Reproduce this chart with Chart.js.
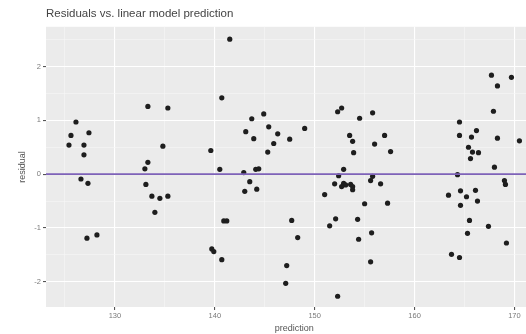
<!DOCTYPE html>
<html>
<head>
<meta charset="utf-8">
<script src="https://cdn.jsdelivr.net/npm/chart.js@4/dist/chart.umd.min.js"></script>
<style>
  html, body { margin: 0; padding: 0; background: #ffffff; overflow: hidden; }
  #wrap { width: 545px; height: 334px; }
</style>
</head>
<body>
<div id="wrap"><canvas id="c" width="545" height="334"></canvas></div>
<script>
// Fitted values of the linear model
const prediction = [
  126.1,127.4,125.6,125.4,126.9,126.9,126.6,127.3,128.2,127.2,
  133.3,135.3,134.8,133.3,133.0,133.1,133.7,134.5,135.3,134.0,
  141.5,140.7,139.6,140.5,139.7,139.9,140.7,140.9,141.2,
  144.9,143.7,145.4,143.1,146.3,143.9,147.5,145.9,145.3,144.1,
  144.4,142.9,143.5,143.0,144.2,149.0,147.7,148.3,147.2,147.1,
  152.3,152.7,154.5,153.5,153.8,153.9,152.9,152.4,152.0,152.9,
  153.1,153.6,153.8,152.7,153.8,151.0,152.1,154.3,151.5,154.4,152.3,
  155.8,156.0,157.0,157.6,155.8,155.6,156.6,155.0,157.3,155.7,155.6,
  167.7,169.7,168.3,167.9,164.5,166.2,164.5,165.7,168.3,170.5,
  165.4,165.8,166.4,165.6,168.0,164.3,169.0,169.1,163.4,164.6,
  166.1,165.2,166.3,164.6,165.5,167.4,165.3,169.2,163.7,164.5
];

// Residuals (observed minus fitted)
const residual = [
  0.97,0.77,0.72,0.54,0.54,0.36,-0.09,-0.17,-1.13,-1.19,
  1.26,1.23,0.52,0.22,0.10,-0.19,-0.41,-0.45,-0.41,-0.71,
  2.51,1.42,0.44,0.09,-1.39,-1.44,-1.59,-0.87,-0.87,
  1.12,1.03,0.88,0.79,0.75,0.66,0.65,0.57,0.41,0.09,
  0.10,0.03,-0.14,-0.32,-0.28,0.85,-0.86,-1.18,-1.70,-2.03,
  1.16,1.23,1.04,0.72,0.61,0.40,0.09,-0.03,-0.18,-0.17,
  -0.20,-0.19,-0.23,-0.23,-0.29,-0.38,-0.83,-0.84,-0.96,-1.21,-2.27,
  1.14,0.56,0.72,0.42,-0.04,-0.12,-0.18,-0.55,-0.54,-1.09,-1.63,
  1.84,1.80,1.64,1.17,0.97,0.81,0.72,0.69,0.67,0.62,
  0.50,0.41,0.40,0.29,0.13,-0.01,-0.12,-0.19,-0.39,-0.31,
  -0.30,-0.42,-0.50,-0.58,-0.86,-0.97,-1.10,-1.28,-1.49,-1.55
];

// Axis breaks: labelled majors and unlabelled minors in between
const xTickLabels = ['130', '140', '150', '160', '170'];
const xMinorBreaks = [125, 135, 145, 155, 165];
const yTickLabels = ['-2', '-1', '0', '1', '2'];
const yMinorBreaks = [-1.5, -0.5, 0.5, 1.5, 2.5];
const referenceLine = 0;

const points = prediction.map((p, i) => ({ x: p, y: residual[i] }));

const xMajor = xTickLabels.map(Number);
const yMajor = yTickLabels.map(Number);
const setBreaks = (major, minor) => scale => {
  scale.ticks = major.concat(minor).sort((a, b) => a - b).map(v => ({ value: v }));
};
const isMajor = major => v => major.some(m => Math.abs(m - v) < 1e-9);

// grey panel behind the grid
const panelBackground = {
  id: 'panelBackground',
  beforeDraw(chart) {
    const { ctx, chartArea: a } = chart;
    ctx.save();
    ctx.fillStyle = '#EBEBEB';
    ctx.fillRect(a.left, a.top, a.right - a.left, a.bottom - a.top);
    ctx.restore();
  }
};

// horizontal reference line at zero residual
const zeroLine = {
  id: 'zeroLine',
  afterDatasetsDraw(chart) {
    const { ctx, chartArea: a, scales } = chart;
    const y = scales.y.getPixelForValue(referenceLine);
    ctx.save();
    ctx.strokeStyle = '#7E62B8';
    ctx.lineWidth = 1.6;
    ctx.beginPath();
    ctx.moveTo(a.left, y);
    ctx.lineTo(a.right, y);
    ctx.stroke();
    ctx.restore();
  }
};

const gridColor = f => c => f(c.tick.value) ? '#FFFFFF' : '#F6F6F6';
const gridWidth = f => c => f(c.tick.value) ? 1.1 : 0.6;
const tickColor = f => c => f(c.tick.value) ? '#555555' : 'rgba(0,0,0,0)';
const tickText = (f, labels) => v => {
  if (!f(v)) return '';
  const i = labels.map(Number).findIndex(m => Math.abs(m - v) < 1e-9);
  return i >= 0 ? labels[i] : '';
};

const xIsMajor = isMajor(xMajor);
const yIsMajor = isMajor(yMajor);
const axisFont = { family: 'Liberation Sans, Arial, sans-serif', size: 7.5 };
const titleFont = { family: 'Liberation Sans, Arial, sans-serif', size: 9 };

new Chart(document.getElementById('c'), {
  type: 'scatter',
  data: {
    datasets: [{
      data: points,
      pointRadius: 2.6,
      pointHoverRadius: 2.6,
      pointBackgroundColor: '#1E1E1E',
      pointBorderWidth: 0
    }]
  },
  options: {
    responsive: false,
    animation: false,
    layout: { padding: { left: 0, right: 1, top: 0, bottom: 0 } },
    plugins: {
      legend: { display: false },
      tooltip: { enabled: false },
      title: {
        display: true,
        text: 'Residuals vs. linear model prediction',
        align: 'start',
        fullSize: false,
        color: '#444444',
        font: { family: 'Liberation Sans, Arial, sans-serif', size: 11.5, weight: 'normal' },
        padding: { top: 7, bottom: 6 }
      }
    },
    scales: {
      x: {
        type: 'linear',
        min: 123.1,
        max: 172.8,
        afterBuildTicks: setBreaks(xMajor, xMinorBreaks),
        afterFit: s => { s.height = 27; },
        border: { display: false },
        grid: {
          color: gridColor(xIsMajor),
          lineWidth: gridWidth(xIsMajor),
          tickColor: tickColor(xIsMajor),
          tickLength: 3
        },
        ticks: {
          autoSkip: false,
          maxRotation: 0,
          padding: 1,
          color: '#7A7A7A',
          font: axisFont,
          callback: tickText(xIsMajor, xTickLabels)
        },
        title: {
          display: true,
          text: 'prediction',
          color: '#555555',
          font: titleFont,
          padding: { top: 0, bottom: 0 }
        }
      },
      y: {
        type: 'linear',
        min: -2.47,
        max: 2.74,
        afterBuildTicks: setBreaks(yMajor, yMinorBreaks),
        afterFit: s => { s.width = 46; },
        border: { display: false },
        grid: {
          color: gridColor(yIsMajor),
          lineWidth: gridWidth(yIsMajor),
          tickColor: tickColor(yIsMajor),
          tickLength: 3
        },
        ticks: {
          autoSkip: false,
          padding: 2,
          color: '#7A7A7A',
          font: axisFont,
          callback: tickText(yIsMajor, yTickLabels)
        },
        title: {
          display: true,
          text: 'residual',
          color: '#555555',
          font: titleFont,
          padding: { top: 17, bottom: 0 }
        }
      }
    }
  },
  plugins: [panelBackground, zeroLine]
});
</script>
</body>
</html>
